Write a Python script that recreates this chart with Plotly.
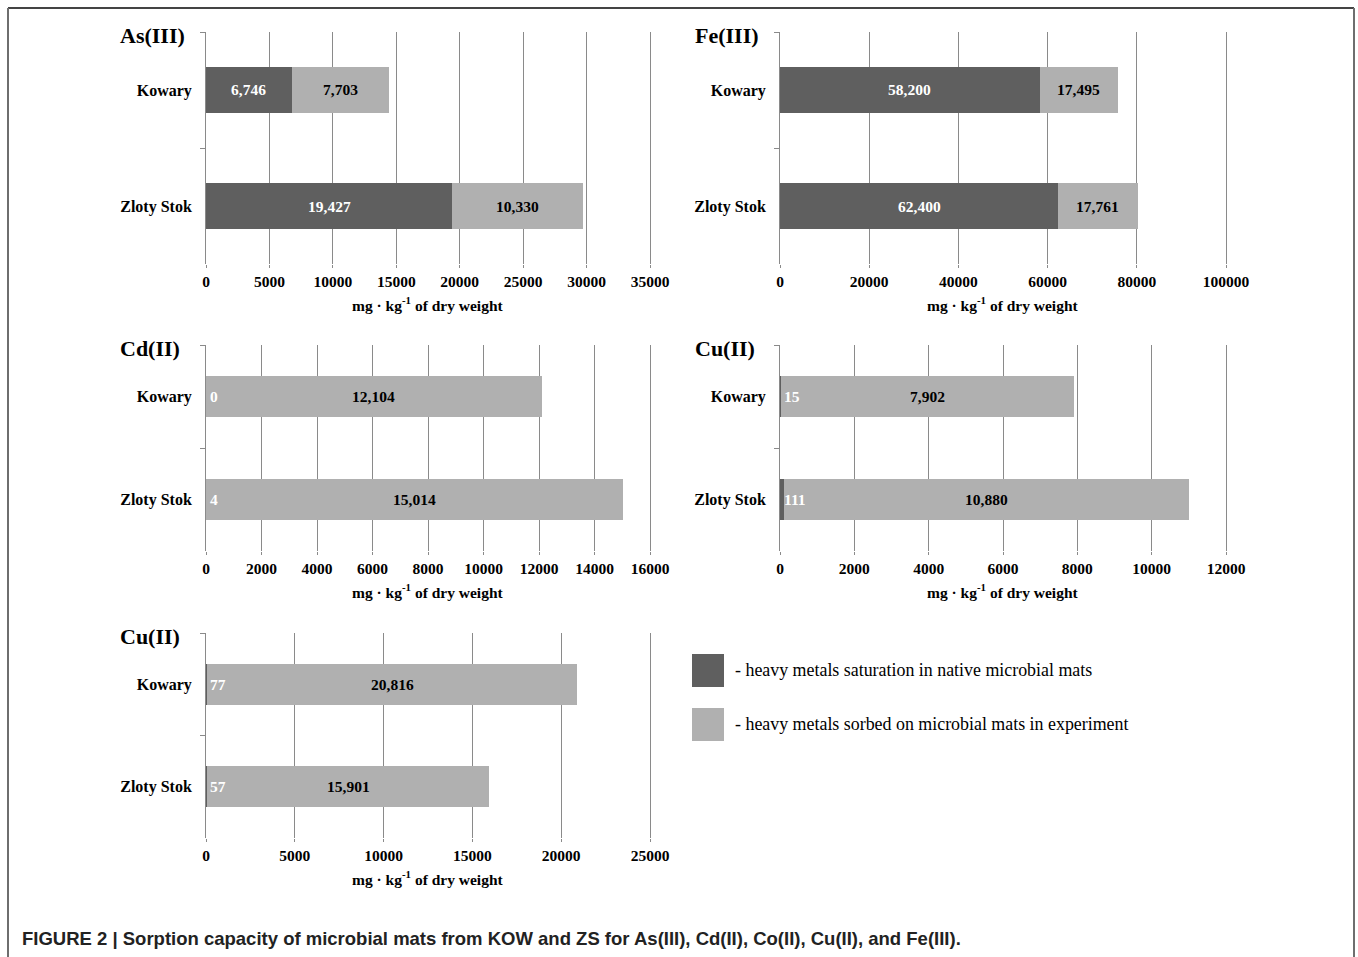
import plotly.graph_objects as go

W, H = 1358, 957

categories = ["Kowary", "Zloty Stok"]

panel_titles = ["As(III)", "Fe(III)", "Cd(II)", "Cu(II)", "Cu(II)"]
native_as = [6746, 19427]
sorbed_as = [7703, 10330]
native_fe = [58200, 62400]
sorbed_fe = [17495, 17761]
native_cd = [0, 4]
sorbed_cd = [12104, 15014]
native_cu = [15, 111]
sorbed_cu = [7902, 10880]
native_cu2 = [77, 57]
sorbed_cu2 = [20816, 15901]

x_max = [35000, 100000, 16000, 12000, 25000]
x_dtick = [5000, 20000, 2000, 2000, 5000]

legend_labels = ["- heavy metals saturation in native microbial mats",
                 "- heavy metals sorbed on microbial mats in experiment"]
axis_title = "mg · kg<sup>-1</sup> of dry weight"
caption = "FIGURE 2 | Sorption capacity of microbial mats from KOW and ZS for As(III), Cd(II), Co(II), Cu(II), and Fe(III)."

native = [native_as, native_fe, native_cd, native_cu, native_cu2]
sorbed = [sorbed_as, sorbed_fe, sorbed_cd, sorbed_cu, sorbed_cu2]

DARK = "#5f5f5f"
LIGHT = "#b0b0b0"
GRID = "#8a8a8a"
SERIF = "Liberation Serif"
PAD = 1.006  # small headroom so the last gridline is drawn

def px_x(p):
    return p / W

def px_y(p):
    return 1 - p / H

left_dom = [px_x(206), px_x(206 + 444 * PAD)]
right_dom = [px_x(780), px_x(780 + 446 * PAD)]
rows = [(32, 264), (345, 551), (633, 838)]
placement = [
    (left_dom, rows[0], 120),
    (right_dom, rows[0], 695),
    (left_dom, rows[1], 120),
    (right_dom, rows[1], 695),
    (left_dom, rows[2], 120),
]
centers = [px_x(428), px_x(1003), px_x(428), px_x(1003), px_x(428)]

fig = go.Figure()
layout = dict(
    width=W, height=H,
    margin=dict(l=0, r=0, t=0, b=0, pad=0, autoexpand=False),
    paper_bgcolor="white", plot_bgcolor="white",
    barmode="stack", bargap=0.6, showlegend=False,
    font=dict(family=SERIF, color="black"),
)
annotations = []
shapes = []

for i in range(5):
    n = str(i + 1) if i > 0 else ""
    xa, ya = "x" + n, "y" + n
    xdom, (ytop, ybot), tx = placement[i]
    fig.add_trace(go.Bar(y=categories, x=native[i], orientation="h",
                         marker=dict(color=DARK, line=dict(width=0)),
                         xaxis=xa, yaxis=ya, hoverinfo="x+y"))
    fig.add_trace(go.Bar(y=categories, x=sorbed[i], orientation="h",
                         marker=dict(color=LIGHT, line=dict(width=0)),
                         xaxis=xa, yaxis=ya, hoverinfo="x+y"))
    layout["xaxis" + n] = dict(
        domain=xdom, anchor=ya, range=[0, x_max[i] * PAD], dtick=x_dtick[i],
        tickformat="d", showgrid=True, gridcolor=GRID, gridwidth=1,
        zeroline=False, showline=False, ticks="outside", ticklen=3,
        tickcolor=GRID, ticklabelstandoff=0, automargin=False,
        tickfont=dict(family=SERIF, size=15.5, color="black", weight="bold"),
        fixedrange=True,
    )
    layout["yaxis" + n] = dict(
        domain=[px_y(ybot), px_y(ytop)], anchor=xa, autorange="reversed",
        type="category", showgrid=False, zeroline=False,
        showline=True, linecolor=GRID, linewidth=1,
        ticks="outside", ticklen=5, tickcolor=GRID, tickson="boundaries",
        ticklabelstandoff=10, automargin=False,
        tickfont=dict(family=SERIF, size=16, color="black", weight="bold"),
        fixedrange=True,
    )
    annotations.append(dict(text=panel_titles[i], xref="paper", yref="paper",
                            x=px_x(tx - 2), y=px_y(ytop + 3), xanchor="left", yanchor="middle",
                            showarrow=False,
                            font=dict(family=SERIF, size=22, color="black", weight="bold")))
    annotations.append(dict(text=axis_title, xref="paper", yref="paper",
                            x=centers[i], y=px_y(ybot + 40),
                            xanchor="center", yanchor="middle", showarrow=False,
                            font=dict(family=SERIF, size=15.5, color="black", weight="bold")))
    for j, cat in enumerate(categories):
        d, l = native[i][j], sorbed[i][j]
        if d >= 0.05 * x_max[i]:
            annotations.append(dict(text=f"{d:,}", x=d / 2, y=cat, xref=xa, yref=ya,
                                    showarrow=False, xanchor="center",
                                    font=dict(family=SERIF, size=15.5, color="white", weight="bold")))
        else:
            annotations.append(dict(text=f"{d:,}", x=0, y=cat, xref=xa, yref=ya,
                                    showarrow=False, xanchor="left", xshift=2,
                                    font=dict(family=SERIF, size=15.5, color="white", weight="bold")))
        annotations.append(dict(text=f"{l:,}", x=d + l / 2, y=cat, xref=xa, yref=ya,
                                showarrow=False, xanchor="center",
                                font=dict(family=SERIF, size=15.5, color="black", weight="bold")))

for k, (col, lab) in enumerate(zip([DARK, LIGHT], legend_labels)):
    y0 = 654 + k * 54
    shapes.append(dict(type="rect", xref="paper", yref="paper",
                       x0=px_x(692), x1=px_x(724), y0=px_y(y0 + 33), y1=px_y(y0),
                       fillcolor=col, line=dict(width=0)))
    annotations.append(dict(text=lab, xref="paper", yref="paper",
                            x=px_x(733), y=px_y(y0 + 16), xanchor="left", yanchor="middle",
                            showarrow=False,
                            font=dict(family=SERIF, size=17.9, color="black")))

frame_col = "#6e6e6e"
shapes.append(dict(type="line", xref="paper", yref="paper", x0=px_x(8), x1=px_x(1354),
                   y0=px_y(8), y1=px_y(8), line=dict(color="#444444", width=2)))
shapes.append(dict(type="line", xref="paper", yref="paper", x0=px_x(8), x1=px_x(8),
                   y0=px_y(8), y1=px_y(960), line=dict(color=frame_col, width=2)))
shapes.append(dict(type="line", xref="paper", yref="paper", x0=px_x(1354), x1=px_x(1354),
                   y0=px_y(8), y1=px_y(960), line=dict(color=frame_col, width=2)))

annotations.append(dict(text=caption, xref="paper", yref="paper",
                        x=px_x(20), y=px_y(938), xanchor="left", yanchor="middle",
                        showarrow=False,
                        font=dict(family="Liberation Sans", size=18.5, color="#222222", weight="bold")))

layout["annotations"] = annotations
layout["shapes"] = shapes
fig.update_layout(**layout)
fig.write_html("out.html",
               config={"displayModeBar": False},
               post_script="document.body.style.margin='0';document.body.style.padding='0';"
                           "document.body.style.overflow='hidden';"
                           "document.documentElement.style.overflow='hidden';")
